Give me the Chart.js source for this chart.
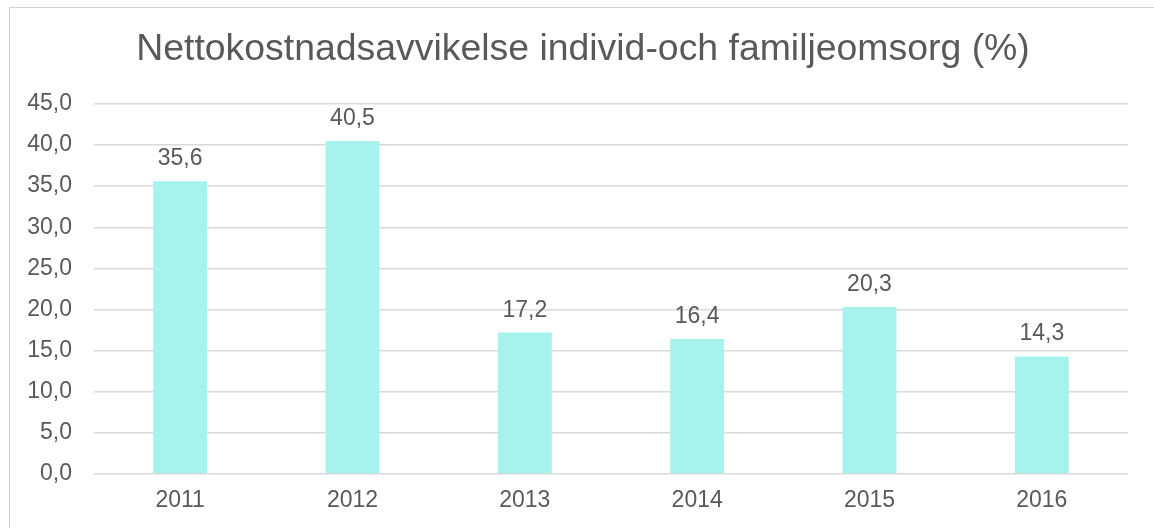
<!DOCTYPE html>
<html>
<head>
<meta charset="utf-8">
<script src="https://cdn.jsdelivr.net/npm/chart.js@4"></script>
<style>
  html, body { margin: 0; padding: 0; background: #fff; overflow: hidden; }
  .frame {
    position: absolute; left: 9px; top: 7px;
    width: 1146px; height: 520px;
    border-left: 1px solid #d0d0d0; border-top: 1px solid #d0d0d0;
  }
  .frame canvas { display: block; }
</style>
</head>
<body>
<div class="frame"><canvas id="myChart" width="1146" height="520"></canvas></div>
<script>
const years = ["2011", "2012", "2013", "2014", "2015", "2016"];
const deviation = [35.6, 40.5, 17.2, 16.4, 20.3, 14.3];
const yTicks = [0, 5, 10, 15, 20, 25, 30, 35, 40, 45];

const textColor = "#595959";
const fontFamily = "'Liberation Sans', Arial, sans-serif";
const fmt = v => v.toFixed(1).replace(".", ",");

// labels above the bars
const barLabels = {
  id: "barLabels",
  afterDatasetsDraw(chart) {
    const ctx = chart.ctx;
    const meta = chart.getDatasetMeta(0);
    ctx.save();
    ctx.fillStyle = textColor;
    ctx.font = "23px " + fontFamily;
    ctx.textAlign = "center";
    ctx.textBaseline = "alphabetic";
    meta.data.forEach((bar, i) => {
      ctx.fillText(fmt(deviation[i]), bar.x, bar.y - 16);
    });
    ctx.restore();
  }
};

const ctx = document.getElementById("myChart").getContext("2d");
new Chart(ctx, {
  type: "bar",
  data: {
    labels: years,
    datasets: [{
      data: deviation,
      backgroundColor: "#a6f2ec",
      borderWidth: 0,
      categoryPercentage: 1,
      barPercentage: 0.313
    }]
  },
  options: {
    responsive: false,
    animation: false,
    layout: { padding: 0 },
    plugins: {
      legend: { display: false },
      tooltip: { enabled: false },
      title: {
        display: true,
        text: "Nettokostnadsavvikelse individ-och familjeomsorg (%)",
        color: textColor,
        font: { family: fontFamily, size: 37.4, weight: "normal" },
        padding: { top: 19, bottom: 32 }
      }
    },
    scales: {
      x: {
        afterFit: scale => { scale.height = 54; },
        grid: { display: false, drawTicks: false },
        border: { display: false },
        ticks: {
          color: textColor,
          padding: 13,
          font: { family: fontFamily, size: 23 }
        }
      },
      y: {
        min: 0,
        max: 45,
        afterBuildTicks: scale => { scale.ticks = yTicks.map(v => ({ value: v })); },
        afterFit: scale => { scale.width = 84; },
        grid: { color: "#d9d9d9", lineWidth: 1.5, drawTicks: false },
        border: { display: false },
        ticks: {
          color: textColor,
          padding: 22,
          font: { family: fontFamily, size: 23 },
          callback: v => fmt(v)
        }
      },
      // empty right margin so the title centres like the original
      yRight: {
        position: "right",
        min: 0,
        max: 45,
        afterFit: scale => { scale.width = 28; },
        grid: { display: false, drawTicks: false },
        border: { display: false },
        ticks: { display: false }
      }
    }
  },
  plugins: [barLabels]
});
</script>
</body>
</html>
